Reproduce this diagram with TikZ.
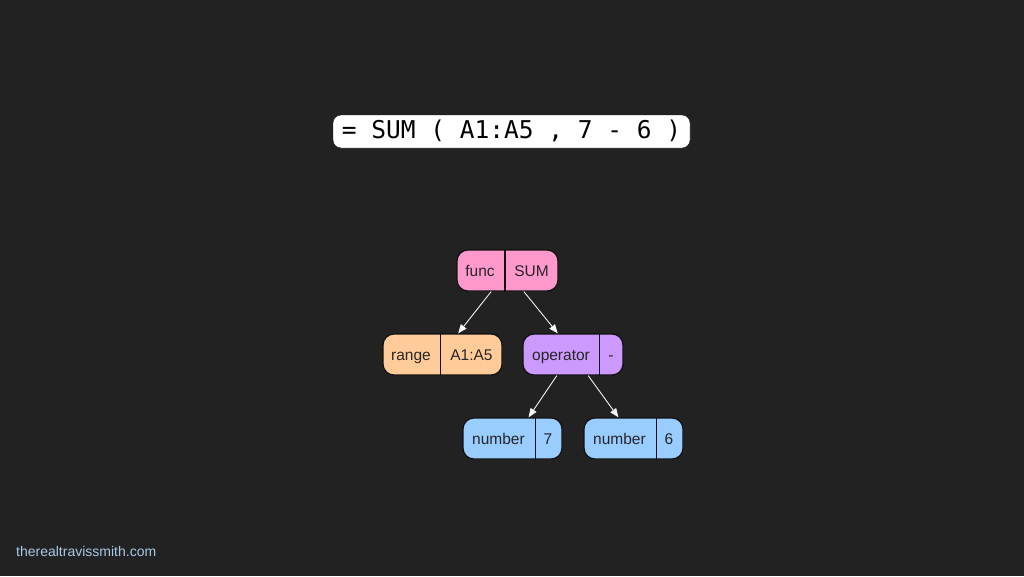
\documentclass[tikz,border=0pt]{standalone}
\usepackage{fontspec}
\setmainfont{Liberation Sans}
\newfontfamily\formulafont{DejaVu Sans Mono}
\usetikzlibrary{arrows.meta,calc}
\definecolor{bg}{HTML}{222222}
\definecolor{pinkc}{HTML}{FF99CC}
\definecolor{orangec}{HTML}{FFCC99}
\definecolor{purplec}{HTML}{CC99FF}
\definecolor{bluec}{HTML}{99CCFF}
\definecolor{edgec}{HTML}{111111}
\definecolor{footc}{HTML}{A9C8E8}
\tikzset{
  record/.style={draw=edgec, line width=1.2pt, rounded corners=11pt, minimum height=41pt, inner sep=0pt},
  lbl/.style={font=\fontsize{15.5}{18}\selectfont, text=black!85, inner sep=0pt, anchor=base},
  divider/.style={draw=edgec, line width=1.1pt},
  edge/.style={draw=white!90!gray, line width=0.9pt, -{Triangle[length=9pt,width=7pt,fill=white]}}
}
\begin{document}
\begin{tikzpicture}[x=1pt,y=-1pt]
\useasboundingbox[fill=bg] (0,0) rectangle (1024,576);
% formula
\node[fill=white, draw=edgec, rounded corners=8pt, minimum width=357pt, minimum height=33pt, inner sep=0pt,
      text height=17pt, text depth=4pt,
      font=\formulafont\fontsize{24.5}{28}\selectfont, text=black] (formula) at (511.5,131.5) {= SUM ( A1:A5 , 7 - 6 )};
% records
\node[record, fill=pinkc, minimum width=101pt] (func) at (507.5,270.5) {};
\node[lbl] (funcA) at (480,276) {func};
\node[lbl] (funcB) at (531.5,276) {SUM};
\draw[divider] ($(func.north west)!0.475!(func.north east)$) -- ($(func.south west)!0.475!(func.south east)$);

\node[record, fill=orangec, minimum width=119pt] (range) at (442.5,354.5) {};
\node[lbl] (rangeA) at (411,360) {range};
\node[lbl] (rangeB) at (471.5,360) {A1:A5};
\draw[divider] ($(range.north west)!0.487!(range.north east)$) -- ($(range.south west)!0.487!(range.south east)$);

\node[record, fill=purplec, minimum width=100pt] (op) at (573,354.5) {};
\node[lbl] (opA) at (561,360) {operator};
\node[lbl] (opB) at (611,360) {-};
\draw[divider] ($(op.north west)!0.76!(op.north east)$) -- ($(op.south west)!0.76!(op.south east)$);

\node[record, fill=bluec, minimum width=99pt] (numA) at (512.5,438.5) {};
\node[lbl] (numAa) at (498.5,444) {number};
\node[lbl] (numAb) at (548,444) {7};
\draw[divider] ($(numA.north west)!0.727!(numA.north east)$) -- ($(numA.south west)!0.727!(numA.south east)$);

\node[record, fill=bluec, minimum width=99pt] (numB) at (633.5,438.5) {};
\node[lbl] (numBa) at (619.5,444) {number};
\node[lbl] (numBb) at (669,444) {6};
\draw[divider] ($(numB.north west)!0.727!(numB.north east)$) -- ($(numB.south west)!0.727!(numB.south east)$);

% edges
\draw[edge] ($(func.south west)!0.34!(func.south east)$) -- ($(range.north west)!0.63!(range.north east)$);
\draw[edge] ($(func.south west)!0.66!(func.south east)$) -- ($(op.north west)!0.35!(op.north east)$);
\draw[edge] ($(op.south west)!0.34!(op.south east)$) -- ($(numA.north west)!0.66!(numA.north east)$);
\draw[edge] ($(op.south west)!0.65!(op.south east)$) -- ($(numB.north west)!0.35!(numB.north east)$);

% footer
\node[anchor=west, inner sep=0pt, text=footc, font=\fontsize{14}{17}\selectfont] (footer) at (16,551) {therealtravissmith.com};
\end{tikzpicture}
\end{document}
